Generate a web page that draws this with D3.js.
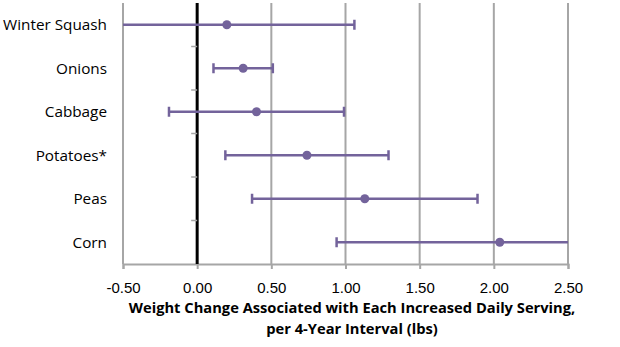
<!DOCTYPE html>
<html>
<head>
<meta charset="utf-8">
<script src="https://cdn.jsdelivr.net/npm/d3@7"></script>
<style>
  body { margin: 0; background: #fff; }
  svg { display: block; font-family: "Open Sans", sans-serif; }
  .cat-label { font-size: 15.3px; fill: #000; }
  .tick-label { font-size: 15px; fill: #000; }
  .axis-title { font-size: 14.7px; font-weight: bold; fill: #000; }
</style>
</head>
<body>
<svg id="chart" width="620" height="347"></svg>
<script>
// Foods and their estimates (lbs per 4-year interval)
const foods = ['Winter Squash', 'Onions', 'Cabbage', 'Potatoes*', 'Peas', 'Corn'];
const estimates = [0.20, 0.31, 0.40, 0.74, 1.13, 2.04];
const lowerCI = [-0.66, 0.11, -0.19, 0.19, 0.37, 0.94];
const upperCI = [1.06, 0.51, 0.99, 1.29, 1.89, 3.14];
const xTicks = [-0.5, 0, 0.5, 1.0, 1.5, 2.0, 2.5];

const svg = d3.select('#chart');
const margin = { top: 3, left: 123, right: 52, bottom: 83 };
const width = 620, height = 347;
const plotBottom = height - margin.bottom;

const x = d3.scaleLinear().domain([-0.5, 2.5]).range([margin.left, width - margin.right]);
const y = d3.scaleBand().domain(foods).range([margin.top, plotBottom]);

const purple = '#73639b';
const gridGray = '#a6a6a6';

// clip for out-of-range intervals
svg.append('defs').append('clipPath').attr('id', 'plot-clip')
    .append('rect')
    .attr('x', x(-0.5)).attr('y', margin.top)
    .attr('width', x(2.5) - x(-0.5)).attr('height', plotBottom - margin.top);

// vertical gridlines
svg.append('g').selectAll('line')
    .data(xTicks.filter(d => d !== 0))
    .join('line')
    .attr('x1', d => x(d)).attr('x2', d => x(d))
    .attr('y1', margin.top).attr('y2', plotBottom)
    .attr('stroke', gridGray).attr('stroke-width', 2);

// bottom axis
const fmt = d => d.toFixed(2);
const xAxis = svg.append('g')
    .attr('transform', `translate(0,${plotBottom})`)
    .call(d3.axisBottom(x).tickValues(xTicks).tickSize(5).tickFormat(fmt));
xAxis.select('.domain').attr('stroke', gridGray).attr('stroke-width', 2);
xAxis.selectAll('.tick line').attr('stroke', gridGray).attr('stroke-width', 2);
xAxis.selectAll('.tick text').attr('class', 'tick-label').attr('dy', null).attr('y', 29)
    .attr('font-family', null).attr('font-size', null);

// zero axis with category ticks
svg.append('line')
    .attr('x1', x(0)).attr('x2', x(0))
    .attr('y1', margin.top).attr('y2', plotBottom)
    .attr('stroke', '#000').attr('stroke-width', 3);

svg.append('g').selectAll('line')
    .data(foods.slice(1))
    .join('line')
    .attr('x1', x(0) - 6).attr('x2', x(0))
    .attr('y1', d => y(d)).attr('y2', d => y(d))
    .attr('stroke', gridGray).attr('stroke-width', 1.5);

// category labels
svg.append('g').selectAll('text')
    .data(foods)
    .join('text')
    .attr('class', 'cat-label')
    .attr('x', 107)
    .attr('y', d => y(d) + y.bandwidth() / 2)
    .attr('dy', '0.35em')
    .attr('text-anchor', 'end')
    .text(d => d);

// error bars
const rows = foods.map((f, i) => ({ food: f, est: estimates[i], lo: lowerCI[i], hi: upperCI[i] }));
const bars = svg.append('g').attr('clip-path', 'url(#plot-clip)');
const cy = d => y(d.food) + y.bandwidth() / 2;

bars.selectAll('.ci')
    .data(rows)
    .join('line')
    .attr('x1', d => x(d.lo)).attr('x2', d => x(d.hi))
    .attr('y1', cy).attr('y2', cy)
    .attr('stroke', purple).attr('stroke-width', 2.5);

const caps = rows.flatMap(d => [{ food: d.food, v: d.lo }, { food: d.food, v: d.hi }])
    .filter(c => c.v >= -0.5 && c.v <= 2.5);
bars.selectAll('.cap')
    .data(caps)
    .join('line')
    .attr('x1', d => x(d.v)).attr('x2', d => x(d.v))
    .attr('y1', d => cy(d) - 5).attr('y2', d => cy(d) + 5)
    .attr('stroke', purple).attr('stroke-width', 2.5);

bars.selectAll('circle')
    .data(rows)
    .join('circle')
    .attr('cx', d => x(d.est)).attr('cy', cy)
    .attr('r', 4.5)
    .attr('fill', purple);

// axis title
const title = svg.append('text')
    .attr('class', 'axis-title')
    .attr('text-anchor', 'middle')
    .attr('x', 352);
title.append('tspan').attr('x', 352).attr('y', 313).text('Weight Change Associated with Each Increased Daily Serving,');
title.append('tspan').attr('x', 352).attr('y', 334).text('per 4-Year Interval (lbs)');
</script>
</body>
</html>
